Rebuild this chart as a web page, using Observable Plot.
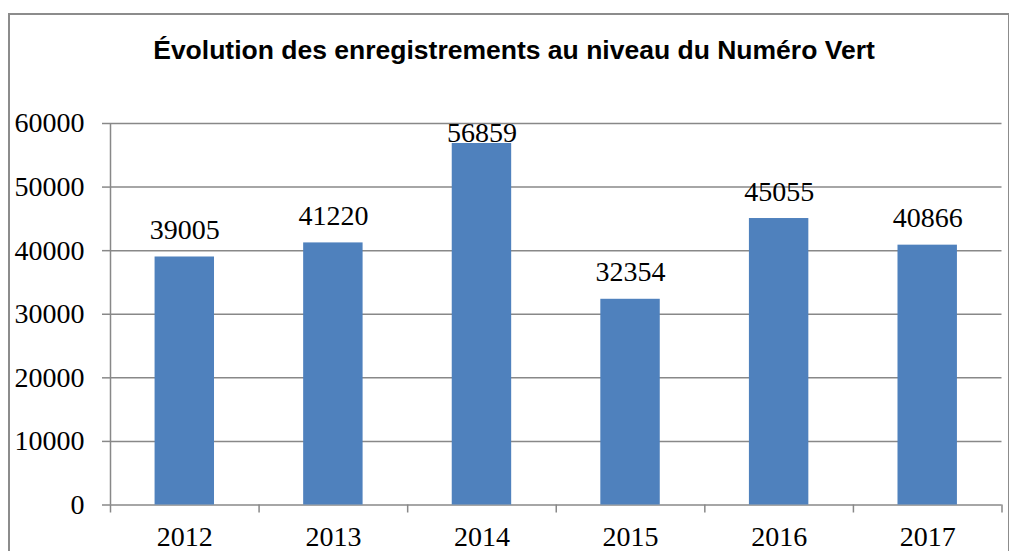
<!DOCTYPE html>
<html>
<head>
<meta charset="utf-8">
<script src="https://cdn.jsdelivr.net/npm/d3@7"></script>
<script src="https://cdn.jsdelivr.net/npm/@observablehq/plot@0.6"></script>
<style>
  html, body { margin: 0; padding: 0; background: #fff; }
  #wrap { position: relative; width: 1009px; height: 551px; overflow: hidden; }
  #border { position: absolute; left: 8px; top: 13px; width: 998px; height: 560px; border: 2px solid #8c8c8c; }
  #title { position: absolute; left: 20px; width: 988px; top: 35px; line-height: 30px; text-align: center;
           font-family: "Liberation Sans", Arial, sans-serif; font-weight: bold; font-size: 26.5px; color: #000; }
  #chart { position: absolute; left: 0; top: 100px; }
</style>
</head>
<body>
<div id="wrap">
  <div id="border"></div>
  <div id="title">Évolution des enregistrements au niveau du Numéro Vert</div>
  <div id="chart"></div>
</div>
<script>
const years = [2012, 2013, 2014, 2015, 2016, 2017];
const values = [39005, 41220, 56859, 32354, 45055, 40866];
const yTicks = [0, 10000, 20000, 30000, 40000, 50000, 60000];
const yMax = 60000;
const labelCeiling = 54200;

const data = years.map((y, i) => ({year: y, value: values[i]}));
const boundaries = years.map(y => y - 0.5).concat([years[years.length - 1] + 0.5]);

const serif = "'Liberation Serif', 'DejaVu Serif', serif";
const grid = "#888888";

const chart = Plot.plot({
  width: 1009,
  height: 451,
  marginTop: 23,
  marginBottom: 46.5,
  marginLeft: 110,
  marginRight: 7.5,
  style: {fontFamily: serif, background: "transparent", overflow: "visible"},
  x: {type: "linear", domain: [boundaries[0], boundaries[boundaries.length - 1]]},
  y: {domain: [0, yMax]},
  marks: [
    Plot.ruleY(yTicks, {stroke: grid, strokeWidth: 1.5}),
    Plot.ruleX([boundaries[0]], {y1: 0, y2: yMax, stroke: grid, strokeWidth: 1.5}),
    Plot.rectY(data, {x1: d => d.year - 0.2, x2: d => d.year + 0.2, y1: 0, y2: "value", fill: "#4F81BD"}),
    Plot.axisY({ticks: yTicks, tickSize: 8, tickPadding: 18, fontSize: 28, stroke: grid, strokeWidth: 1.5,
                color: "#000", tickFormat: d => String(d), label: null}),
    Plot.axisX({ticks: boundaries, tickSize: 8, tickFormat: () => "", stroke: grid, strokeWidth: 1.5, label: null}),
    Plot.axisX({ticks: years, tickSize: 0, tickPadding: 21, fontSize: 28, color: "#000",
                tickFormat: d => String(d), label: null}),
    Plot.text(data, {x: "year", y: d => Math.min(d.value, labelCeiling), text: d => String(d.value),
                     lineAnchor: "bottom", dy: -18, fontSize: 28, fill: "#000"})
  ]
});
document.getElementById("chart").appendChild(chart);
</script>
</body>
</html>
